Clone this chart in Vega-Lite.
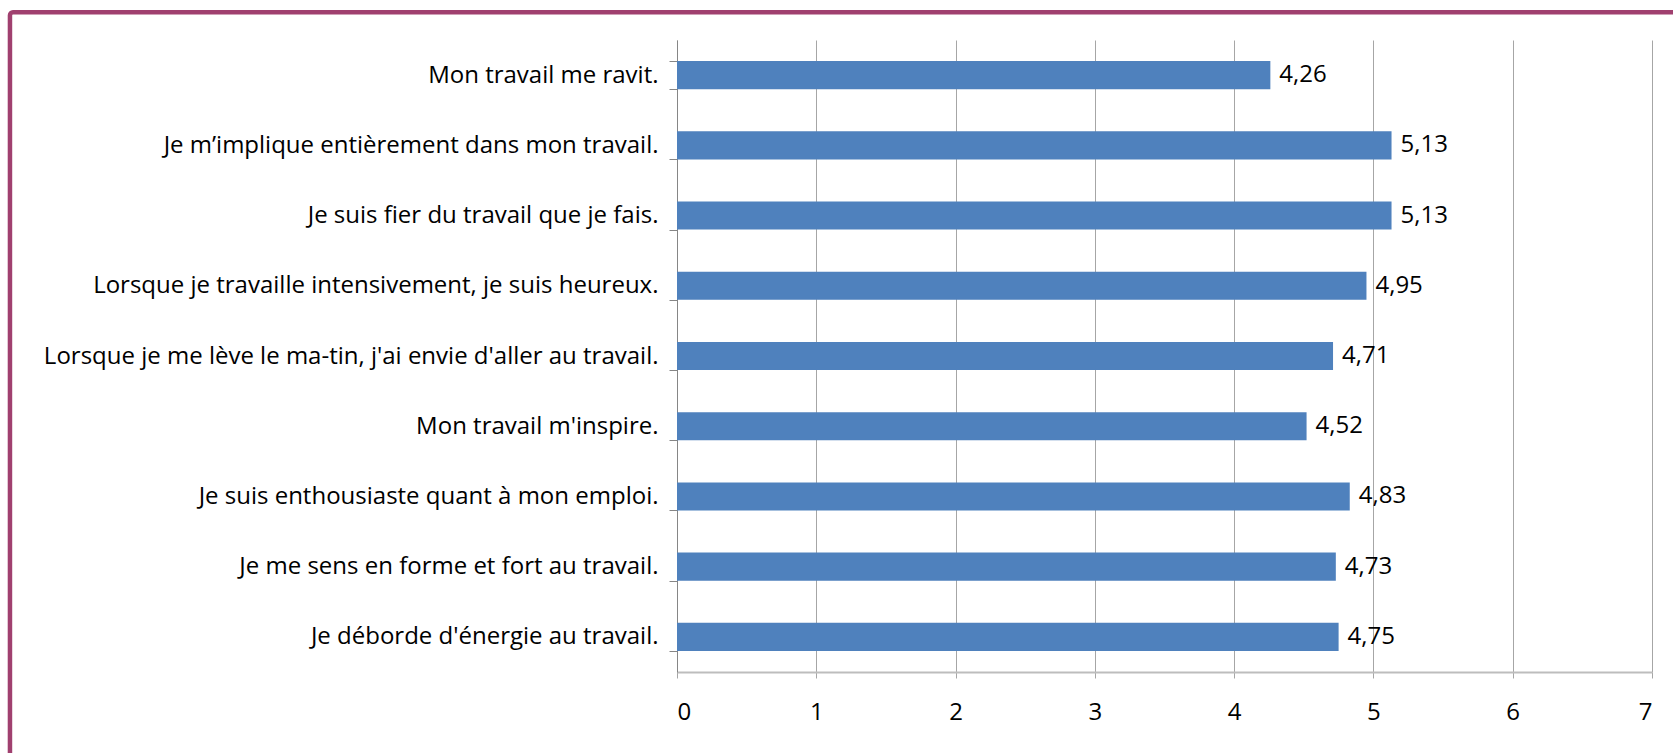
{
  "$schema": "https://vega.github.io/schema/vega-lite/v6.json",
  "autosize": {"type": "none"},
  "width": 975,
  "height": 632,
  "padding": {"left": 677, "top": 40, "right": 21, "bottom": 81},
  "background": "white",
  "config": {
    "view": {"stroke": null},
    "locale": {"number": {"decimal": ",", "thousands": " ", "grouping": [3], "currency": ["", " €"]}},
    "font": "Open Sans"
  },
  "layer": [
    {
      "data": {"values": [{}]},
      "mark": {"type": "rect", "fill": null, "stroke": "#A0406F", "strokeWidth": 4.5, "cornerRadius": 3, "clip": false},
      "encoding": {
        "x": {"datum": -4.789, "type": "quantitative"},
        "x2": {"datum": 7.3},
        "y": {"datum": 1.0438, "type": "quantitative", "scale": {"domain": [0, 1], "nice": false, "zero": false}, "axis": null},
        "y2": {"datum": -0.16}
      }
    },
    {
      "data": {
        "values": [
          {"item": "Mon travail me ravit.", "score": 4.26},
          {"item": "Je m’implique entièrement dans mon travail.", "score": 5.13},
          {"item": "Je suis fier du travail que je fais.", "score": 5.13},
          {"item": "Lorsque je travaille intensivement, je suis heureux.", "score": 4.95},
          {"item": "Lorsque je me lève le ma-tin, j'ai envie d'aller au travail.", "score": 4.71},
          {"item": "Mon travail m'inspire.", "score": 4.52},
          {"item": "Je suis enthousiaste quant à mon emploi.", "score": 4.83},
          {"item": "Je me sens en forme et fort au travail.", "score": 4.73},
          {"item": "Je déborde d'énergie au travail.", "score": 4.75}
        ]
      },
      "encoding": {
        "y": {
          "field": "item", "type": "nominal", "sort": null, "title": null,
          "scale": {"paddingInner": 0.6, "paddingOuter": 0.3},
          "axis": {
            "tickBand": "extent", "tickSize": 8, "tickColor": "#868686", "domainColor": "#868686",
            "labelPadding": 11, "labelFontSize": 24, "labelColor": "#000000", "labelLimit": 700,
            "labelFont": "Open Sans"
          }
        },
        "x": {
          "field": "score", "type": "quantitative", "title": null,
          "scale": {"domain": [0, 7], "nice": false},
          "axis": {
            "values": [0, 1, 2, 3, 4, 5, 6, 7], "format": "d",
            "grid": true, "gridColor": "#A6A6A6", "gridWidth": 1,
            "domainColor": "#BDBDBD", "domainWidth": 2,
            "tickColor": "#A6A6A6", "tickSize": 6,
            "labelPadding": 22, "labelFontSize": 24, "labelColor": "#000000", "labelFont": "Open Sans"
          }
        }
      },
      "layer": [
        {"mark": {"type": "bar", "color": "#4F81BD"}},
        {
          "mark": {"type": "text", "align": "left", "baseline": "middle", "dx": 9, "fontSize": 24, "color": "#000000", "font": "Open Sans"},
          "encoding": {"text": {"field": "score", "type": "quantitative", "format": ".2f"}}
        }
      ]
    }
  ],
  "resolve": {"scale": {"y": "independent"}, "axis": {"y": "independent"}}
}
